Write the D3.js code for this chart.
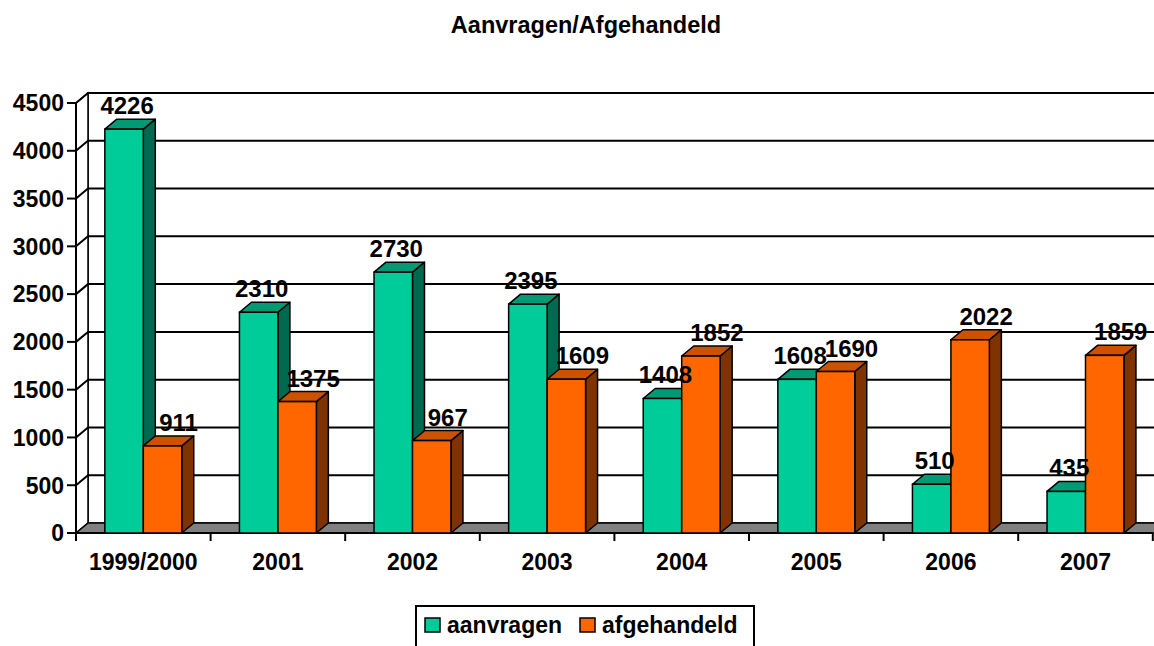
<!DOCTYPE html>
<html>
<head>
<meta charset="utf-8">
<script src="https://cdn.jsdelivr.net/npm/d3@7"></script>
<style>
  body { margin: 0; background: #fff; }
  text { font-family: "Liberation Sans", Arial, sans-serif; font-weight: bold; fill: #000; }
</style>
</head>
<body>
<div id="chart"></div>
<script>
// chart data
const categories = ["1999/2000", "2001", "2002", "2003", "2004", "2005", "2006", "2007"];
const seriesNames = ["aanvragen", "afgehandeld"];
const aanvragen = [4226, 2310, 2730, 2395, 1408, 1608, 510, 435];
const afgehandeld = [911, 1375, 967, 1609, 1852, 1690, 2022, 1859];
const yTicks = [0, 500, 1000, 1500, 2000, 2500, 3000, 3500, 4000, 4500];

const colors = {
  aanvragen: { front: "#00cc99", top: "#009a74", side: "#006a50" },
  afgehandeld: { front: "#ff6600", top: "#cc5200", side: "#7f3300" }
};

const W = 1154, H = 646;
const depth = { dx: 12, dy: -10 };
const plot = { left: 76, right: 76 + 8 * 134.6, top: 103, bottom: 533 };

const svg = d3.select("#chart").append("svg")
  .attr("width", W)
  .attr("height", H);

const x = d3.scaleBand()
  .domain(categories)
  .range([plot.left, plot.right])
  .paddingInner(0).paddingOuter(0);

const xs = d3.scaleBand()
  .domain(seriesNames)
  .range([0, x.bandwidth()])
  .paddingInner(0).paddingOuter(0.75);

const y = d3.scaleLinear()
  .domain([0, 4500])
  .range([plot.bottom, plot.top]);

const backRight = plot.right + depth.dx + 20;

// title
svg.append("text")
  .attr("x", 586).attr("y", 33)
  .attr("text-anchor", "middle")
  .style("font-size", "23.5px")
  .text("Aanvragen/Afgehandeld");

// back wall
svg.append("rect")
  .attr("x", plot.left + depth.dx)
  .attr("y", y(4500) + depth.dy)
  .attr("width", backRight - plot.left - depth.dx)
  .attr("height", y(0) - y(4500))
  .attr("fill", "#fff").attr("stroke", "#000").attr("stroke-width", 1.5);

// left wall
svg.append("path")
  .attr("d", d3.line()([
    [plot.left, y(0)], [plot.left + depth.dx, y(0) + depth.dy],
    [plot.left + depth.dx, y(4500) + depth.dy], [plot.left, y(4500)]
  ]) + "Z")
  .attr("fill", "#fff").attr("stroke", "#000").attr("stroke-width", 1.5);

// floor
svg.append("path")
  .attr("d", d3.line()([
    [plot.left, y(0)], [plot.left + depth.dx, y(0) + depth.dy],
    [backRight, y(0) + depth.dy], [backRight - depth.dx, y(0)]
  ]) + "Z")
  .attr("fill", "#808080").attr("stroke", "#000").attr("stroke-width", 1.5);

// gridlines on side and back wall
svg.append("g").selectAll("path")
  .data(yTicks.filter(d => d > 0))
  .join("path")
  .attr("d", d => d3.line()([
    [plot.left, y(d)], [plot.left + depth.dx, y(d) + depth.dy], [backRight, y(d) + depth.dy]
  ]))
  .attr("fill", "none").attr("stroke", "#000").attr("stroke-width", 2);

// y axis
svg.append("line")
  .attr("x1", plot.left).attr("x2", plot.left)
  .attr("y1", y(4500)).attr("y2", y(0) + 8)
  .attr("stroke", "#000").attr("stroke-width", 2);

const yAxis = svg.append("g");
yAxis.selectAll("line")
  .data(yTicks)
  .join("line")
  .attr("x1", plot.left - 9).attr("x2", plot.left)
  .attr("y1", d => y(d)).attr("y2", d => y(d))
  .attr("stroke", "#000").attr("stroke-width", 2);
yAxis.selectAll("text")
  .data(yTicks)
  .join("text")
  .attr("x", plot.left - 12)
  .attr("y", d => y(d))
  .attr("dy", "0.36em")
  .attr("text-anchor", "end")
  .style("font-size", "23px")
  .text(d => d);

// x axis
svg.append("line")
  .attr("x1", plot.left).attr("x2", plot.right)
  .attr("y1", y(0)).attr("y2", y(0))
  .attr("stroke", "#000").attr("stroke-width", 2);

svg.append("g").selectAll("line")
  .data(d3.range(categories.length + 1))
  .join("line")
  .attr("x1", i => plot.left + i * x.step())
  .attr("x2", i => plot.left + i * x.step())
  .attr("y1", y(0)).attr("y2", y(0) + 8)
  .attr("stroke", "#000").attr("stroke-width", 2);

svg.append("g").selectAll("text")
  .data(categories)
  .join("text")
  .attr("x", d => x(d) + x.bandwidth() / 2)
  .attr("y", 570)
  .attr("text-anchor", "middle")
  .style("font-size", "23px")
  .text(d => d);

// bars
const barData = [];
categories.forEach((c, i) => {
  barData.push({ cat: c, series: "aanvragen", value: aanvragen[i] });
  barData.push({ cat: c, series: "afgehandeld", value: afgehandeld[i] });
});

const bars = svg.append("g").selectAll("g")
  .data(barData)
  .join("g");

bars.each(function(d) {
  const g = d3.select(this);
  const x0 = x(d.cat) + xs(d.series);
  const x1 = x0 + xs.bandwidth();
  const yt = y(d.value), yb = y(0);
  const c = colors[d.series];
  g.append("path")
    .attr("d", d3.line()([[x1, yt], [x1 + depth.dx, yt + depth.dy], [x1 + depth.dx, yb + depth.dy], [x1, yb]]) + "Z")
    .attr("fill", c.side).attr("stroke", "#000").attr("stroke-width", 1.5).attr("stroke-linejoin", "round");
  g.append("path")
    .attr("d", d3.line()([[x0, yt], [x0 + depth.dx, yt + depth.dy], [x1 + depth.dx, yt + depth.dy], [x1, yt]]) + "Z")
    .attr("fill", c.top).attr("stroke", "#000").attr("stroke-width", 1.5).attr("stroke-linejoin", "round");
  g.append("rect")
    .attr("x", x0).attr("y", yt)
    .attr("width", x1 - x0).attr("height", yb - yt)
    .attr("fill", c.front).attr("stroke", "#000").attr("stroke-width", 1.5);
});

// value labels
svg.append("g").selectAll("text")
  .data(barData)
  .join("text")
  .attr("x", d => x(d.cat) + xs(d.series) + xs.bandwidth() / 2 + (d.series === "aanvragen" ? 3 : 16))
  .attr("y", d => y(d.value) + depth.dy - 5)
  .attr("text-anchor", "middle")
  .style("font-size", "24px")
  .text(d => d.value);

// legend
const legend = svg.append("g");
legend.append("rect")
  .attr("x", 416).attr("y", 606)
  .attr("width", 338).attr("height", 50)
  .attr("fill", "#fff").attr("stroke", "#000").attr("stroke-width", 2);

const legendX = [425, 580];
const li = legend.selectAll("g")
  .data(seriesNames)
  .join("g")
  .attr("transform", (d, i) => `translate(${legendX[i]},618)`);
li.append("rect")
  .attr("width", 15).attr("height", 14)
  .attr("fill", d => colors[d].front)
  .attr("stroke", "#000").attr("stroke-width", 1.5);
li.append("text")
  .attr("x", 22).attr("y", 7)
  .attr("dy", "0.36em")
  .style("font-size", "23px")
  .text(d => d);
</script>
</body>
</html>
